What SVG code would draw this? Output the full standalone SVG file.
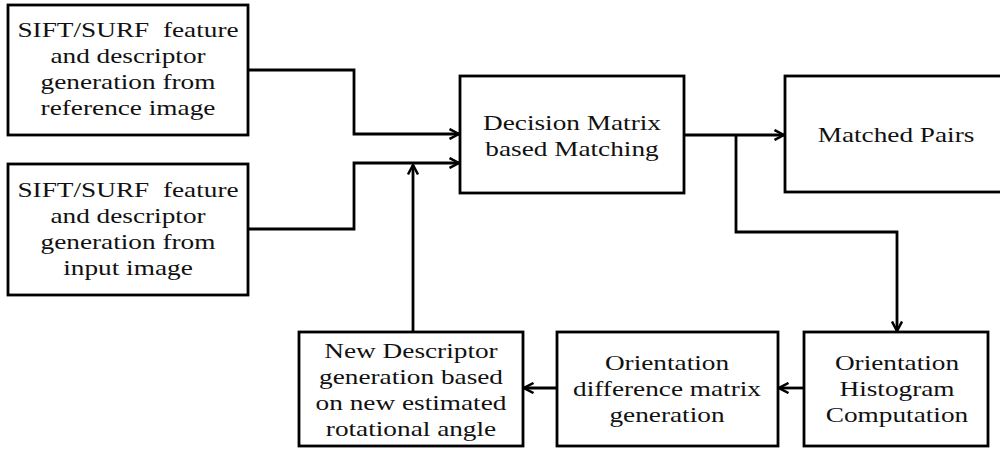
<svg xmlns="http://www.w3.org/2000/svg" width="1000" height="450" viewBox="0 0 1000 450">
  <style>
    .box { fill: #fff; stroke: #000; stroke-width: 2.8; }
    .lbl { font-family: "Liberation Serif", "Times New Roman", serif; font-size: 22px; fill: #111; text-anchor: middle; }
    .wire { fill: none; stroke: #000; stroke-width: 2.8; }
    .arrow { marker-end: url(#head); }
  </style>
  <defs>
    <marker id="head" viewBox="0 0 12 12" refX="10.5" refY="6" markerWidth="12" markerHeight="12" markerUnits="userSpaceOnUse" orient="auto">
      <path d="M1,1 L10.5,6 L1,11" fill="none" stroke="#000" stroke-width="2.5"/>
    </marker>
  </defs>

  <rect width="1000" height="450" fill="#fff"/>

  <!-- connectors -->
  <g id="connectors">
    <path class="wire arrow" d="M248,70 H354 V134 H459"/>
    <path class="wire arrow" d="M248,229 H354 V163 H459"/>
    <path class="wire arrow" d="M413,332 V165"/>
    <path class="wire arrow" d="M684,135 H784"/>
    <path class="wire arrow" d="M736,135 V232 H897 V331"/>
    <path class="wire arrow" d="M804,388 H779"/>
    <path class="wire arrow" d="M557,388 H524"/>
  </g>

  <!-- feature extraction from the reference image -->
  <g id="ref-features">
    <rect class="box" x="8" y="5" width="240" height="130"/>
    <text class="lbl" transform="translate(128 0) scale(1.24 1)" xml:space="preserve"><tspan x="0" y="37">SIFT/SURF  feature</tspan><tspan x="0" y="63">and descriptor</tspan><tspan x="0" y="89">generation from</tspan><tspan x="0" y="115">reference image</tspan></text>
  </g>

  <!-- feature extraction from the input image -->
  <g id="input-features">
    <rect class="box" x="8" y="164" width="240" height="131"/>
    <text class="lbl" transform="translate(128 0) scale(1.24 1)" xml:space="preserve"><tspan x="0" y="197">SIFT/SURF  feature</tspan><tspan x="0" y="223">and descriptor</tspan><tspan x="0" y="249">generation from</tspan><tspan x="0" y="275">input image</tspan></text>
  </g>

  <!-- matching stage -->
  <g id="decision-matrix">
    <rect class="box" x="460" y="76" width="224" height="117"/>
    <text class="lbl" transform="translate(572 0) scale(1.24 1)"><tspan x="0" y="130">Decision Matrix</tspan><tspan x="0" y="156">based Matching</tspan></text>
  </g>

  <g id="matched-pairs">
    <rect class="box" x="785" y="76" width="230" height="116"/>
    <text class="lbl" transform="translate(896 0) scale(1.24 1)"><tspan x="0" y="142">Matched Pairs</tspan></text>
  </g>

  <!-- rotation correction loop -->
  <g id="orientation-histogram">
    <rect class="box" x="804" y="332" width="184" height="114"/>
    <text class="lbl" transform="translate(897 0) scale(1.24 1)"><tspan x="0" y="370">Orientation</tspan><tspan x="0" y="396">Histogram</tspan><tspan x="0" y="422">Computation</tspan></text>
  </g>

  <g id="orientation-difference">
    <rect class="box" x="557" y="332" width="221" height="114"/>
    <text class="lbl" transform="translate(667 0) scale(1.24 1)"><tspan x="0" y="370">Orientation</tspan><tspan x="0" y="396">difference matrix</tspan><tspan x="0" y="422">generation</tspan></text>
  </g>

  <g id="new-descriptor">
    <rect class="box" x="299" y="332" width="224" height="114"/>
    <text class="lbl" transform="translate(411 0) scale(1.24 1)"><tspan x="0" y="358">New Descriptor</tspan><tspan x="0" y="384">generation based</tspan><tspan x="0" y="410">on new estimated</tspan><tspan x="0" y="436">rotational angle</tspan></text>
  </g>
</svg>
